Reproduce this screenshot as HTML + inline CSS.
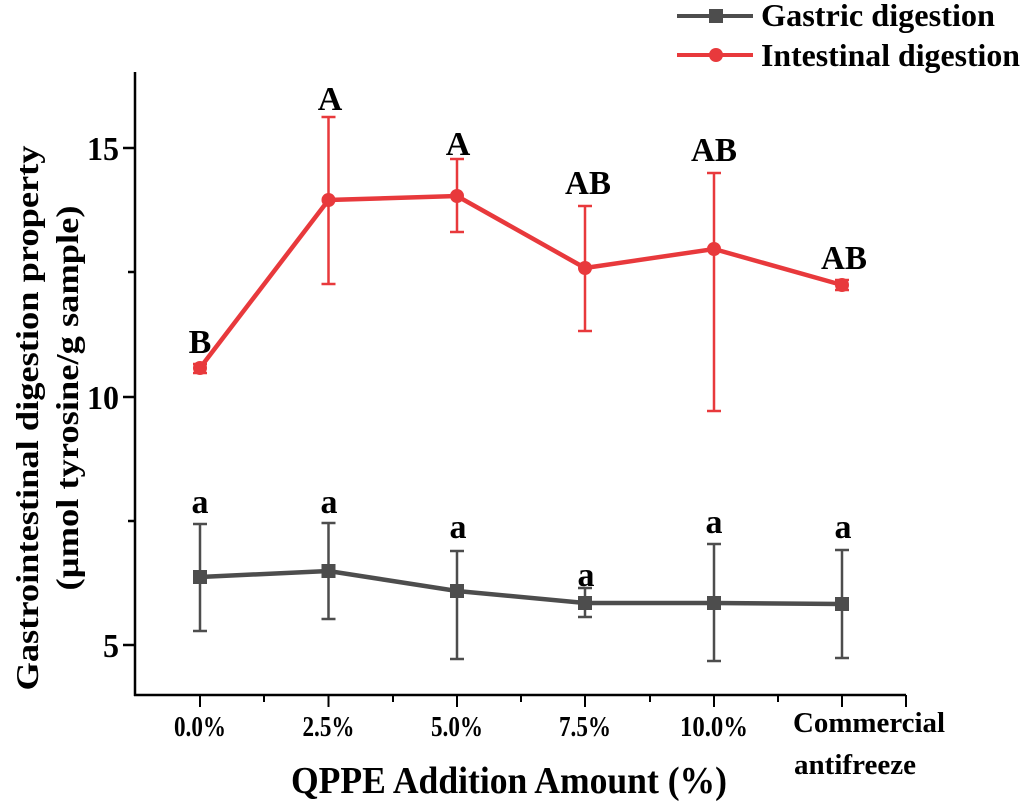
<!DOCTYPE html>
<html><head><meta charset="utf-8"><style>body{margin:0;background:#fff}svg{display:block}text{font-family:"Liberation Serif","Times New Roman",serif;font-weight:bold;fill:#000}</style></head>
<body>
<svg width="1024" height="804" viewBox="0 0 1024 804">
<g stroke="#000" stroke-width="2.5" fill="none">
<line x1="135" y1="72" x2="135" y2="696"/>
<line x1="134" y1="695" x2="906" y2="695"/>
<line x1="123" y1="148" x2="135" y2="148"/>
<line x1="123" y1="397" x2="135" y2="397"/>
<line x1="123" y1="645" x2="135" y2="645"/>
<line x1="128" y1="272" x2="135" y2="272"/>
<line x1="128" y1="521" x2="135" y2="521"/>
</g>
<g stroke="#000" stroke-width="2">
<line x1="200" y1="695" x2="200" y2="707"/><line x1="328.5" y1="695" x2="328.5" y2="707"/><line x1="457" y1="695" x2="457" y2="707"/><line x1="585" y1="695" x2="585" y2="707"/><line x1="714" y1="695" x2="714" y2="707"/><line x1="842" y1="695" x2="842" y2="707"/><line x1="906" y1="695" x2="906" y2="707"/>
<line x1="264" y1="695" x2="264" y2="702"/><line x1="393" y1="695" x2="393" y2="702"/><line x1="521" y1="695" x2="521" y2="702"/><line x1="650" y1="695" x2="650" y2="702"/><line x1="778" y1="695" x2="778" y2="702"/>
</g>
<g font-size="34" text-anchor="end"><text x="119" y="160" textLength="32" lengthAdjust="spacingAndGlyphs">15</text><text x="119" y="409" textLength="32" lengthAdjust="spacingAndGlyphs">10</text><text x="119" y="657" textLength="16" lengthAdjust="spacingAndGlyphs">5</text></g>
<g font-size="28" text-anchor="middle">
<text x="200" y="736" textLength="52" lengthAdjust="spacingAndGlyphs">0.0%</text>
<text x="328.5" y="736" textLength="52" lengthAdjust="spacingAndGlyphs">2.5%</text>
<text x="457" y="736" textLength="52" lengthAdjust="spacingAndGlyphs">5.0%</text>
<text x="585" y="736" textLength="52" lengthAdjust="spacingAndGlyphs">7.5%</text>
<text x="714" y="736" textLength="68" lengthAdjust="spacingAndGlyphs">10.0%</text>
<text x="869" y="732" textLength="152" lengthAdjust="spacingAndGlyphs">Commercial</text>
<text x="855" y="774" textLength="122" lengthAdjust="spacingAndGlyphs">antifreeze</text></g>
<text x="509" y="793" font-size="38" text-anchor="middle" textLength="436" lengthAdjust="spacingAndGlyphs">QPPE Addition Amount (%)</text>
<text transform="translate(38,418) rotate(-90)" font-size="32" text-anchor="middle" textLength="545" lengthAdjust="spacingAndGlyphs">Gastrointestinal digestion property</text>
<text transform="translate(78,398) rotate(-90)" font-size="32" text-anchor="middle" textLength="385" lengthAdjust="spacingAndGlyphs">(µmol tyrosine/g sample)</text>
<!-- gastric -->
<g stroke="#4d4d4d" stroke-width="2.5">
<line x1="200" y1="524" x2="200" y2="631"/><line x1="193" y1="524" x2="207" y2="524"/><line x1="193" y1="631" x2="207" y2="631"/>
<line x1="328.5" y1="523" x2="328.5" y2="619"/><line x1="321.5" y1="523" x2="335.5" y2="523"/><line x1="321.5" y1="619" x2="335.5" y2="619"/>
<line x1="457" y1="551" x2="457" y2="659"/><line x1="450" y1="551" x2="464" y2="551"/><line x1="450" y1="659" x2="464" y2="659"/>
<line x1="585" y1="588" x2="585" y2="617"/><line x1="578" y1="588" x2="592" y2="588"/><line x1="578" y1="617" x2="592" y2="617"/>
<line x1="714" y1="544" x2="714" y2="661"/><line x1="707" y1="544" x2="721" y2="544"/><line x1="707" y1="661" x2="721" y2="661"/>
<line x1="842" y1="550" x2="842" y2="658"/><line x1="835" y1="550" x2="849" y2="550"/><line x1="835" y1="658" x2="849" y2="658"/>
</g>
<polyline points="200,577 328.5,571 457,591 585,603 714,603 842,604" fill="none" stroke="#4d4d4d" stroke-width="4.5"/>
<g fill="#4d4d4d"><rect x="193" y="570" width="14" height="14"/><rect x="321.5" y="564" width="14" height="14"/><rect x="450" y="584" width="14" height="14"/><rect x="578" y="596" width="14" height="14"/><rect x="707" y="596" width="14" height="14"/><rect x="835" y="597" width="14" height="14"/></g>
<!-- intestinal -->
<g stroke="#e8393c" stroke-width="2.5">
<line x1="200" y1="364" x2="200" y2="373"/><line x1="193" y1="364" x2="207" y2="364"/><line x1="193" y1="373" x2="207" y2="373"/>
<line x1="328.5" y1="117" x2="328.5" y2="284"/><line x1="321.5" y1="117" x2="335.5" y2="117"/><line x1="321.5" y1="284" x2="335.5" y2="284"/>
<line x1="457" y1="159" x2="457" y2="232"/><line x1="450" y1="159" x2="464" y2="159"/><line x1="450" y1="232" x2="464" y2="232"/>
<line x1="585" y1="206" x2="585" y2="331"/><line x1="578" y1="206" x2="592" y2="206"/><line x1="578" y1="331" x2="592" y2="331"/>
<line x1="714" y1="173" x2="714" y2="411"/><line x1="707" y1="173" x2="721" y2="173"/><line x1="707" y1="411" x2="721" y2="411"/>
<line x1="842" y1="280" x2="842" y2="290"/><line x1="835" y1="280" x2="849" y2="280"/><line x1="835" y1="290" x2="849" y2="290"/>
</g>
<polyline points="200,368 328.5,200 457,196 585,268 714,249 842,285" fill="none" stroke="#e8393c" stroke-width="4.5"/>
<g fill="#e8393c"><circle cx="200" cy="368" r="7"/><circle cx="328.5" cy="200" r="7"/><circle cx="457" cy="196" r="7"/><circle cx="585" cy="268" r="7"/><circle cx="714" cy="249" r="7"/><circle cx="842" cy="285" r="7"/></g>
<g font-size="34" text-anchor="middle">
<text x="200" y="353">B</text><text x="330" y="110">A</text><text x="458" y="155">A</text><text x="588" y="194" textLength="46" lengthAdjust="spacingAndGlyphs">AB</text><text x="714" y="161" textLength="46" lengthAdjust="spacingAndGlyphs">AB</text><text x="844" y="269" textLength="46" lengthAdjust="spacingAndGlyphs">AB</text>
<text x="200" y="513">a</text><text x="329" y="513">a</text><text x="458" y="538">a</text><text x="586" y="586">a</text><text x="714" y="533">a</text><text x="843" y="538">a</text>
</g>
<!-- legend -->
<line x1="677" y1="16" x2="753" y2="16" stroke="#4d4d4d" stroke-width="4"/><rect x="709" y="9" width="14" height="14" fill="#4d4d4d"/>
<line x1="677" y1="55" x2="753" y2="55" stroke="#e8393c" stroke-width="4"/><circle cx="716" cy="55" r="7" fill="#e8393c"/>
<text x="761" y="26" font-size="32" textLength="234" lengthAdjust="spacingAndGlyphs">Gastric digestion</text>
<text x="761" y="66" font-size="32" textLength="259" lengthAdjust="spacingAndGlyphs">Intestinal digestion</text>
</svg>
</body></html>
